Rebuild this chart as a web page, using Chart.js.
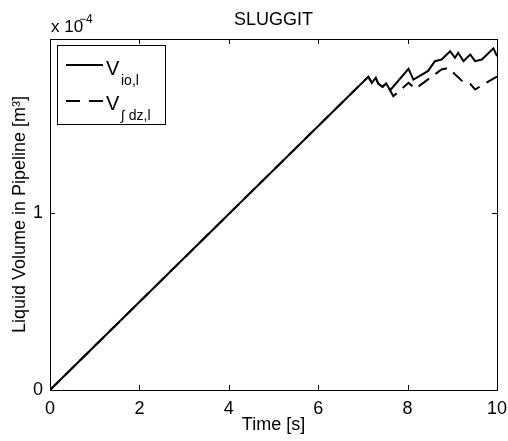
<!DOCTYPE html>
<html>
<head>
<meta charset="utf-8">
<script src="https://cdn.jsdelivr.net/npm/chart.js@4/dist/chart.umd.min.js"></script>
<style>
html,body{margin:0;padding:0;background:#fff;}
#wrap{width:508px;height:441px;position:relative;}
</style>
</head>
<body>
<div id="wrap"><canvas id="c" width="508" height="441"></canvas></div>
<script>
// Values in units of 1e-4 m^3 (axis shows "x 10^-4")
const timeIo = [0, 7.12, 7.20, 7.29, 7.34, 7.44, 7.52, 7.61, 8.02, 8.13, 8.46, 8.61, 8.76, 8.95, 9.06, 9.13, 9.25, 9.40, 9.51, 9.66, 9.92, 10.0];
const volIo  = [0, 1.767, 1.733, 1.761, 1.729, 1.710, 1.730, 1.691, 1.812, 1.751, 1.800, 1.855, 1.864, 1.911, 1.874, 1.902, 1.855, 1.893, 1.855, 1.864, 1.927, 1.883];
const timeDz = [0, 7.12, 7.20, 7.29, 7.34, 7.44, 7.52, 7.68, 8.02, 8.17, 8.76, 8.91, 9.25, 9.40, 9.51, 9.69, 10.0];
const volDz  = [0, 1.767, 1.733, 1.761, 1.729, 1.710, 1.730, 1.657, 1.733, 1.699, 1.808, 1.817, 1.736, 1.727, 1.695, 1.723, 1.768];
const xTicks = [0, 2, 4, 6, 8, 10];
const yTicks = [0, 1];
const yMax = 1.98;

const FONT = "'Liberation Sans', Arial, Helvetica, sans-serif";

const decor = {
  id: 'decor',
  afterDraw(chart) {
    const ctx = chart.ctx;
    const a = chart.chartArea;
    const xs = chart.scales.x, ys = chart.scales.y;
    ctx.save();
    // box
    ctx.strokeStyle = '#000';
    ctx.lineWidth = 1;
    ctx.strokeRect(Math.round(a.left) + 0.5, Math.round(a.top) + 0.5, Math.round(a.right - a.left), Math.round(a.bottom - a.top));
    // inward ticks
    ctx.beginPath();
    xTicks.forEach(v => {
      const px = Math.round(xs.getPixelForValue(v)) + 0.5;
      ctx.moveTo(px, a.bottom); ctx.lineTo(px, a.bottom - 5);
      ctx.moveTo(px, a.top); ctx.lineTo(px, a.top + 5);
    });
    yTicks.forEach(v => {
      const py = Math.round(ys.getPixelForValue(v)) + 0.5;
      ctx.moveTo(a.left, py); ctx.lineTo(a.left + 5, py);
      ctx.moveTo(a.right, py); ctx.lineTo(a.right - 5, py);
    });
    ctx.stroke();
    // title
    ctx.fillStyle = '#000';
    ctx.textAlign = 'center';
    ctx.textBaseline = 'alphabetic';
    ctx.font = '18px ' + FONT;
    ctx.fillText('SLUGGIT', (a.left + a.right) / 2, 25);
    // multiplier
    ctx.textAlign = 'left';
    ctx.font = '17px ' + FONT;
    ctx.fillText('x 10', a.left + 1, 32);
    ctx.font = '12px ' + FONT;
    ctx.fillText('\u22124', a.left + 29, 23);
    // legend
    const lx = 57, ly = 45, lw = 108, lh = 79;
    ctx.fillStyle = '#fff';
    ctx.fillRect(lx, ly, lw, lh);
    ctx.strokeStyle = '#000';
    ctx.lineWidth = 1;
    ctx.strokeRect(lx + 0.5, ly + 0.5, lw, lh);
    ctx.lineWidth = 2;
    ctx.beginPath();
    ctx.moveTo(66, 65); ctx.lineTo(103, 65);
    ctx.stroke();
    ctx.setLineDash([14, 9]);
    ctx.beginPath();
    ctx.moveTo(66, 101); ctx.lineTo(103, 101);
    ctx.stroke();
    ctx.setLineDash([]);
    ctx.fillStyle = '#000';
    ctx.font = '20px ' + FONT;
    ctx.fillText('V', 106, 75);
    ctx.fillText('V', 106, 110);
    ctx.font = '14px ' + FONT;
    ctx.fillText('io,l', 121, 85);
    ctx.fillText('\u222B dz,l', 121, 120);
    ctx.restore();
  }
};

new Chart(document.getElementById('c'), {
  type: 'line',
  data: {
    datasets: [
      {
        label: 'V io,l',
        data: timeIo.map((t, i) => ({x: t, y: volIo[i]})),
        borderColor: '#000', borderWidth: 2, pointRadius: 0, tension: 0, fill: false
      },
      {
        label: 'V ∫dz,l',
        data: timeDz.map((t, i) => ({x: t, y: volDz[i]})),
        borderColor: '#000', borderWidth: 2, borderDash: [13, 8], pointRadius: 0, tension: 0, fill: false
      }
    ]
  },
  options: {
    responsive: false,
    animation: false,
    layout: { padding: { top: 39, right: 11, left: 0, bottom: 0 } },
    plugins: { legend: { display: false }, tooltip: { enabled: false }, title: { display: false } },
    scales: {
      x: {
        type: 'linear', min: 0, max: 10,
        afterBuildTicks: s => { s.ticks = xTicks.map(v => ({value: v})); },
        afterFit: s => { s.height = 51; s.paddingLeft = 0; s.paddingRight = 0; },
        grid: { display: false, drawTicks: false },
        border: { display: false },
        ticks: { color: '#000', font: { family: FONT, size: 18 }, padding: 8, maxRotation: 0 },
        title: { display: true, text: 'Time [s]', color: '#000', font: { family: FONT, size: 18 }, padding: { top: 0, bottom: 5 } }
      },
      y: {
        type: 'linear', min: 0, max: yMax,
        afterBuildTicks: s => { s.ticks = yTicks.map(v => ({value: v})); },
        afterFit: s => { s.width = 50; s.paddingTop = 0; s.paddingBottom = 0; },
        grid: { display: false, drawTicks: false },
        border: { display: false },
        ticks: { color: '#000', font: { family: FONT, size: 18 }, padding: 7 },
        title: { display: true, text: 'Liquid Volume in Pipeline [m\u00B3]', color: '#000', font: { family: FONT, size: 18 }, padding: { top: 9, bottom: 0 } }
      }
    }
  },
  plugins: [decor]
});
</script>
</body>
</html>
